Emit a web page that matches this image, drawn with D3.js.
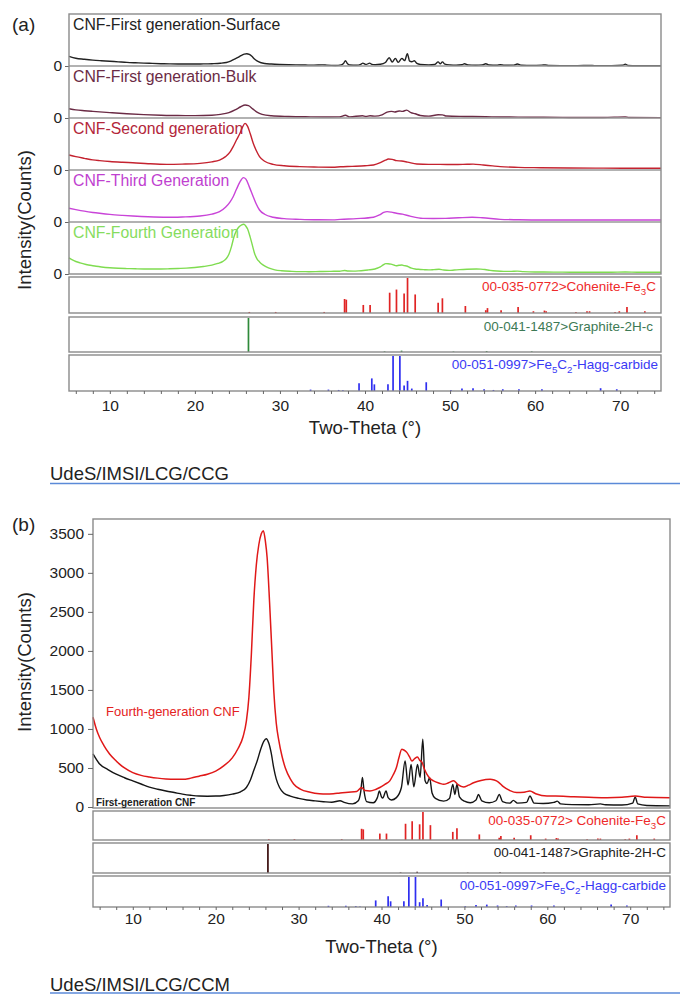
<!DOCTYPE html>
<html>
<head>
<meta charset="utf-8">
<script src="https://cdn.jsdelivr.net/npm/d3@7"></script>
<style>
  body { margin: 0; background: #fff; }
  svg { display: block; font-family: "Liberation Sans", Arial, sans-serif; }
  .tick text { fill: #222; }
  .tick line { stroke: #666; }
</style>
</head>
<body>
<div id="chart"></div>
<script>
// ---- data: [two-theta, counts] ----
const FIRST_GEN = [[5.2,680],[6,550],[7,480],[8,420],[9,375],[10,335],[11,295],[12,255],[13,228],[14,205],[15,185],[16,165],[17,150],[18,140],[19,138],[20,140],[21,148],[22,165],[23,195],[23.7,250],[24.2,350],[24.6,470],[25,590],[25.4,730],[25.8,840],[26.1,875],[26.4,820],[26.7,690],[27.0,500],[27.3,360],[27.7,250],[28.2,180],[29,140],[30,110],[31,90],[32,78],[33,68],[34,60],[35,80],[35.5,60],[36.5,40],[37.2,80],[37.5,200],[37.7,380],[37.9,200],[38.2,70],[39,55],[39.5,120],[39.75,205],[40.0,130],[40.15,115],[40.55,205],[40.8,120],[41.2,90],[41.8,120],[42.4,250],[42.85,590],[43.2,280],[43.57,545],[43.9,260],[44.34,545],[44.66,380],[44.98,870],[45.25,340],[45.5,300],[45.8,375],[46.1,180],[46.5,110],[47.5,75],[48.2,110],[48.6,290],[48.85,160],[49.1,290],[49.4,130],[50,75],[50.7,55],[51.4,90],[51.7,160],[52.1,80],[53,55],[53.8,80],[54.2,160],[54.6,70],[55.5,50],[55.9,85],[56.4,50],[57.5,60],[57.9,140],[58.4,50],[59.5,45],[60.8,60],[61.2,75],[61.6,40],[63,30],[65,28],[66.4,40],[67,28],[69,25],[70.3,50],[70.6,130],[70.9,40],[72,20],[74.8,15]];

const FIRST_GEN_BULK = [[5.2,660],[6,580],[7,520],[8,470],[10,380],[12,300],[14,240],[16,200],[18,175],[20,170],[22,200],[23,260],[24,380],[24.8,600],[25.4,800],[25.9,920],[26.3,880],[26.8,650],[27.3,420],[27.9,260],[29,160],[31,110],[33,85],[35,75],[37,80],[37.7,200],[38.2,80],[39.7,160],[40.1,110],[40.6,160],[41.2,130],[42,220],[42.6,420],[43.1,470],[43.5,430],[44,500],[44.4,470],[44.9,560],[45.4,380],[45.9,300],[46.5,180],[47.5,130],[48.6,230],[49.1,220],[49.6,140],[51.7,110],[54.2,90],[56,70],[58,65],[61,50],[64,40],[68,40],[70.6,80],[71,35],[74.8,30]];

const SECOND_GEN = [[5.2,1070],[6,950],[7,830],[8,720],[8.8,665],[10,600],[11.5,550],[12.7,520],[14.5,450],[16.7,400],[18.5,420],[20.6,475],[22,580],[22.9,710],[23.6,950],[24.1,1250],[24.5,1660],[24.9,2150],[25.3,2610],[25.6,3050],[25.9,3320],[26.2,3100],[26.5,2600],[26.86,1900],[27.2,1400],[27.6,950],[28.2,620],[29.2,400],[30.5,300],[32.35,240],[34,210],[36.2,200],[37.1,230],[38.5,260],[40,300],[41,355],[41.8,520],[42.4,700],[42.75,780],[43.2,760],[43.7,665],[44.3,640],[45,560],[46.1,425],[47.5,400],[48.8,400],[50.5,390],[52,410],[52.7,420],[53.9,355],[55,290],[55.9,240],[58,190],[60.6,165],[64,140],[68,130],[72,125],[74.8,120]];

const THIRD_GEN = [[5.2,975],[6,880],[7,770],[8,680],[8.8,620],[10,540],[11.5,470],[12.7,425],[14.5,370],[16.7,335],[18.5,360],[20.6,425],[22,560],[22.9,735],[23.6,1050],[24.1,1400],[24.5,1800],[24.9,2350],[25.3,2850],[25.7,3155],[26.0,3050],[26.4,2500],[26.86,1800],[27.2,1300],[27.6,855],[28.2,550],[29.2,335],[30.5,240],[32.35,190],[34,160],[36.2,150],[37.1,190],[39,240],[41,335],[41.7,500],[42.2,680],[42.6,735],[43.1,700],[43.7,620],[44.4,560],[45.3,420],[46.8,260],[48,250],[49.5,260],[51,300],[52.6,335],[53.8,300],[55.9,190],[58,160],[60.6,140],[65,140],[70,140],[74.8,140]];

const FOURTH_GEN = [[5.2,1150],[5.6,1000],[6,890],[6.5,790],[7.2,680],[8,590],[8.4,550],[9,500],[10,440],[11,405],[12,385],[13,370],[14,360],[15,355],[16,355],[17,370],[18,395],[19,420],[20,460],[21,530],[22,630],[22.7,750],[23.3,900],[23.7,1100],[24.0,1400],[24.3,1950],[24.6,2650],[24.9,3100],[25.2,3360],[25.5,3500],[25.75,3540],[26.0,3400],[26.2,3200],[26.5,2620],[26.8,1950],[27.0,1500],[27.3,1080],[27.6,860],[28,650],[28.4,500],[29,360],[29.4,295],[30.2,230],[31.4,190],[32.5,170],[33.4,165],[34.2,170],[35,180],[36,190],[37,200],[37.6,250],[38,210],[38.6,205],[39.3,225],[39.8,250],[40.4,290],[41,335],[41.4,410],[41.8,505],[42.1,630],[42.45,740],[42.7,730],[43.05,700],[43.4,640],[43.66,590],[44.0,620],[44.34,640],[44.6,600],[44.9,570],[45.2,480],[45.47,420],[45.9,360],[46.27,335],[47,305],[47.5,290],[48.1,310],[48.7,335],[49.2,290],[49.9,255],[50.5,280],[51.1,310],[52,340],[53.1,355],[53.6,345],[54.1,320],[54.7,260],[55.5,210],[56.3,185],[57.2,190],[57.9,205],[58.6,170],[59.96,140],[61,140],[63.2,130],[65,125],[67.2,120],[69,125],[70.6,140],[72,125],[74.8,120]];

// reference patterns: [two-theta, relative intensity %]
const COHENITE = [[26.4,3],[29.5,3],[35.2,3],[37.6,40],[37.8,38],[39.8,23],[40.6,23],[42.9,58],[43.7,67],[44.6,56],[45.0,100],[45.9,53],[48.6,29],[49.1,42],[51.8,20],[54.2,8],[54.4,14],[56.0,8],[58.0,17],[59.8,5],[61.1,7],[61.3,5],[64.8,3],[66.1,5],[66.4,5],[69.4,3],[69.9,5],[70.8,17],[72.9,5]];
const GRAPHITE = [[26.3,100],[42.3,2],[44.3,4],[50.4,1.5],[54.3,3],[59.6,2]];
const HAGG = [[33.6,4],[35.7,4],[36.9,3],[37.4,2],[39.3,22],[40.8,36],[41.1,19],[42.7,19],[43.3,100],[44.1,100],[44.6,16],[45.0,29],[45.5,7],[47.2,25],[50.1,3],[51.4,7],[52.7,8],[54.0,5],[55.1,3],[56.2,5],[58.1,5],[60.8,5],[67.7,8],[69.6,5]];

const A_NAMES = ["CNF-First generation-Surface", "CNF-First generation-Bulk", "CNF-Second generation", "CNF-Third Generation", "CNF-Fourth Generation"];
const B_NAMES = ["Fourth-generation CNF", "First-generation CNF"];
const X_TICKS = d3.range(6, 75, 2);
const B_Y_TICKS = [0, 500, 1000, 1500, 2000, 2500, 3000, 3500];

// ---- frame ----
const FRAME_W = 680, FRAME_H = 994;
const svg = d3.select("#chart").append("svg")
  .attr("width", FRAME_W).attr("height", FRAME_H);

const BORDER = "#8a8a8a";

function drawLabel(g, x, y, parts, color, size, anchor) {
  const t = g.append("text").attr("x", x).attr("y", y)
    .attr("fill", color).attr("font-size", size + "px")
    .attr("text-anchor", anchor || "start");
  let shift = 0;
  parts.forEach((p) => {
    const sub = p[1] === "sub";
    const dy = (sub ? 4 : 0) - shift;
    shift = sub ? 4 : 0;
    t.append("tspan").attr("dy", dy).attr("font-size", sub ? (size * 0.72) + "px" : null).text(p[0]);
  });
  return t;
}

function stickBox(x, top, h, sticks, color, parts, labelColor, labelRight) {
  const y = d3.scaleLinear().domain([0, 100]).range([top + h, top + 1]);
  svg.append("g").selectAll("line").data(sticks).enter().append("line")
    .attr("x1", (d) => x(d[0])).attr("x2", (d) => x(d[0]))
    .attr("y1", y(0)).attr("y2", (d) => y(d[1]))
    .attr("stroke", color).attr("stroke-width", 1.7);
  svg.append("rect").attr("x", x.range()[0]).attr("y", top)
    .attr("width", x.range()[1] - x.range()[0]).attr("height", h)
    .attr("fill", "none").attr("stroke", BORDER).attr("stroke-width", 1.4);
  drawLabel(svg, labelRight, top + 14, parts, labelColor, 13.5, "end");
}

function bottomAxis(x, yPos, pad) {
  const ax = svg.append("g").attr("transform", "translate(0," + yPos + ")")
    .call(d3.axisBottom(x).tickValues(X_TICKS).tickSize(3).tickPadding(pad)
      .tickFormat((d) => (d % 10 === 0 ? d : "")))
    .attr("font-size", "15.5px").attr("font-family", null);
  ax.select(".domain").remove();
}

// ================= PANEL (a) =================
const A = {left: 69, right: 661, top: 14, subH: 52};
const XA = d3.scaleLinear().domain([5.2, 74.8]).range([A.left, A.right]);
const A_SERIES = [FIRST_GEN, FIRST_GEN_BULK, SECOND_GEN, THIRD_GEN, FOURTH_GEN];
const A_COLORS = ["#222222", "#6b2b45", "#c4222f", "#c944d8", "#7fdc50"];
const A_LABEL_COLORS = ["#222222", "#6b2b45", "#b3263a", "#c03fd0", "#86dc5e"];

A_SERIES.forEach((series, i) => {
  const bottom = A.top + A.subH * (i + 1);
  const y = d3.scaleLinear().domain([0, 3700]).range([bottom, bottom - A.subH]);
  svg.append("path").datum(series)
    .attr("fill", "none").attr("stroke", A_COLORS[i]).attr("stroke-width", 1.4)
    .attr("d", d3.line().x((d) => XA(d[0])).y((d) => y(d[1])).curve(d3.curveMonotoneX));
  if (i < 4) {
    svg.append("line").attr("x1", A.left).attr("x2", A.right)
      .attr("y1", bottom).attr("y2", bottom)
      .attr("stroke", "#999").attr("stroke-width", 1.6);
  }
  const ax = svg.append("g").attr("transform", "translate(" + A.left + ",0)")
    .call(d3.axisLeft(y).tickValues([0]).tickSize(4).tickPadding(3))
    .attr("font-size", "15.5px").attr("font-family", null);
  ax.select(".domain").remove();
  svg.append("text").attr("x", A.left + 4).attr("y", bottom - A.subH + 16)
    .attr("font-size", "15.8px").attr("fill", A_LABEL_COLORS[i]).text(A_NAMES[i]);
});
svg.append("rect").attr("x", A.left).attr("y", A.top)
  .attr("width", A.right - A.left).attr("height", A.subH * 5)
  .attr("fill", "none").attr("stroke", BORDER).attr("stroke-width", 1.4);

stickBox(XA, 277, 36, COHENITE, "#e02424",
  [["00-035-0772>Cohenite-Fe"], ["3", "sub"], ["C"]], "#ee2a2a", 656);
stickBox(XA, 317, 35, GRAPHITE, "#2f8a3a",
  [["00-041-1487>Graphite-2H-c"]], "#3d7a55", 653);
stickBox(XA, 355, 36, HAGG, "#2f2ff0",
  [["00-051-0997>Fe"], ["5", "sub"], ["C"], ["2", "sub"], ["-Hagg-carbide"]], "#3a3af5", 658);
bottomAxis(XA, 391, 6);

svg.append("text").attr("x", (A.left + A.right) / 2).attr("y", 434)
  .attr("text-anchor", "middle").attr("font-size", "18.5px").attr("fill", "#222")
  .text("Two-Theta (°)");
svg.append("text").attr("transform", "translate(31,220) rotate(-90)")
  .attr("text-anchor", "middle").attr("font-size", "18.5px").attr("fill", "#222")
  .text("Intensity(Counts)");
svg.append("text").attr("x", 12).attr("y", 31).attr("font-size", "19px").attr("fill", "#222").text("(a)");

svg.append("text").attr("x", 50).attr("y", 480).attr("font-size", "18.5px").attr("fill", "#222").text("UdeS/IMSI/LCG/CCG");
svg.append("line").attr("x1", 50).attr("x2", 680).attr("y1", 483.5).attr("y2", 483.5)
  .attr("stroke", "#5b8ad8").attr("stroke-width", 1.5);

// ================= PANEL (b) =================
const B = {left: 93, right: 670, top: 519, bottom: 808};
const XB = d3.scaleLinear().domain([5.2, 74.8]).range([B.left, B.right]);
const YB = d3.scaleLinear().domain([0, 3690]).range([807, B.top]);
const lineB = d3.line().x((d) => XB(d[0])).y((d) => YB(d[1])).curve(d3.curveMonotoneX);

svg.append("path").datum(FIRST_GEN).attr("fill", "none").attr("stroke", "#151515")
  .attr("stroke-width", 1.4).attr("d", lineB);
svg.append("path").datum(FOURTH_GEN).attr("fill", "none").attr("stroke", "#e01818")
  .attr("stroke-width", 1.5).attr("d", lineB);
svg.append("rect").attr("x", B.left).attr("y", B.top)
  .attr("width", B.right - B.left).attr("height", B.bottom - B.top)
  .attr("fill", "none").attr("stroke", BORDER).attr("stroke-width", 1.4);

const yAxB = svg.append("g").attr("transform", "translate(" + B.left + ",0)")
  .call(d3.axisLeft(YB).tickValues(B_Y_TICKS).tickSize(5).tickPadding(4).tickFormat(d3.format("d")))
  .attr("font-size", "15.5px").attr("font-family", null);
yAxB.select(".domain").remove();

svg.append("text").attr("x", 106).attr("y", 716).attr("font-size", "13px")
  .attr("fill", "#e42222").text(B_NAMES[0]);
svg.append("text").attr("x", 96).attr("y", 806).attr("font-size", "10px")
  .attr("font-weight", "bold").attr("fill", "#222").text(B_NAMES[1]);

stickBox(XB, 811, 29, COHENITE, "#e02424",
  [["00-035-0772> Cohenite-Fe"], ["3", "sub"], ["C"]], "#ee2a2a", 666);
stickBox(XB, 843, 30, GRAPHITE, "#3a0c0c",
  [["00-041-1487>Graphite-2H-C"]], "#222", 666);
stickBox(XB, 876, 31, HAGG, "#2f2ff0",
  [["00-051-0997>Fe"], ["5", "sub"], ["C"], ["2", "sub"], ["-Hagg-carbide"]], "#3a3af5", 666);
bottomAxis(XB, 907, 3);

svg.append("text").attr("x", (B.left + B.right) / 2).attr("y", 953)
  .attr("text-anchor", "middle").attr("font-size", "18.5px").attr("fill", "#222")
  .text("Two-Theta (°)");
svg.append("text").attr("transform", "translate(31,662) rotate(-90)")
  .attr("text-anchor", "middle").attr("font-size", "18.5px").attr("fill", "#222")
  .text("Intensity(Counts)");
svg.append("text").attr("x", 12).attr("y", 531).attr("font-size", "19px").attr("fill", "#222").text("(b)");

svg.append("text").attr("x", 50).attr("y", 991).attr("font-size", "18.5px").attr("fill", "#222").text("UdeS/IMSI/LCG/CCM");
svg.append("line").attr("x1", 50).attr("x2", 680).attr("y1", 993).attr("y2", 993)
  .attr("stroke", "#5b8ad8").attr("stroke-width", 1.5);
</script>
</body>
</html>
